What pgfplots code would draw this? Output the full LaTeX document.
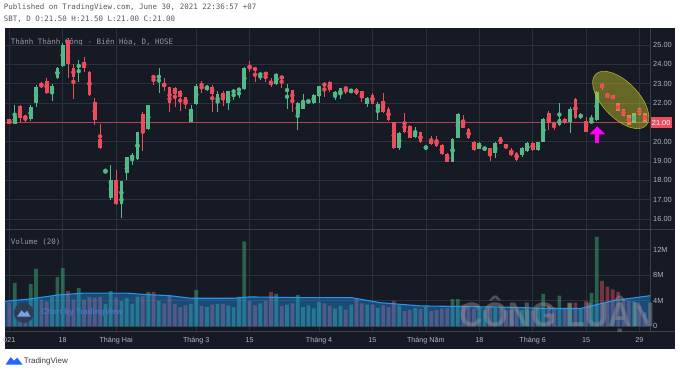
\documentclass[border=0pt]{standalone}
\usepackage{pgfplots}
\pgfplotsset{compat=1.18}
\usepackage{pgfplotstable}
\usepackage{fontspec}
\setmainfont{Liberation Sans}
\newfontfamily\monof{DejaVu Sans Mono}
\usetikzlibrary{arrows.meta,shapes.geometric}
\definecolor{bg}{RGB}{22,26,37}
\definecolor{gridc}{RGB}{44,48,60}
\definecolor{sepc}{RGB}{60,64,76}
\definecolor{upc}{RGB}{83,185,135}
\definecolor{dnc}{RGB}{235,77,92}
\definecolor{vupc}{RGB}{60,160,110}
\definecolor{vdnc}{RGB}{200,70,85}
\definecolor{lbl}{RGB}{178,181,190}
\definecolor{mac}{RGB}{33,150,243}
\definecolor{tvblue}{RGB}{41,98,255}
\definecolor{magc}{RGB}{255,0,255}
\definecolor{hdrc}{RGB}{90,90,90}
\definecolor{ttlc}{RGB}{150,153,162}
\definecolor{elc}{RGB}{200,195,40}
\definecolor{circc}{RGB}{45,58,80}
\definecolor{cloudc}{RGB}{120,160,230}
\definecolor{wmtc}{RGB}{80,130,215}
\definecolor{wmgray}{RGB}{150,150,150}
\definecolor{logotc}{RGB}{60,60,60}
\pgfplotsset{
 upf/.style={restrict expr to domain={\thisrow{u}}{0.5:1.5}},
 dnf/.style={restrict expr to domain={\thisrow{u}}{-0.5:0.5}}}
\pgfplotstableread{
i o h l c u v
0 21.17 21.20 20.90 20.93 0 3.7
1 20.93 21.90 20.90 21.34 1 6.8
2 21.86 21.90 21.00 21.24 0 3.3
3 21.33 21.38 21.00 21.22 0 2.8
4 21.15 21.90 21.07 21.80 1 6.6
5 22.00 22.95 21.80 22.85 1 9.0
6 22.98 23.10 22.80 22.83 0 4.2
7 23.16 23.30 22.48 22.52 0 3.9
8 22.55 23.00 22.10 22.88 1 4.7
9 23.28 23.88 23.24 23.83 1 7.7
10 23.90 25.10 23.86 25.00 1 9.1
11 25.25 25.35 23.30 24.00 0 5.5
12 23.83 24.00 22.20 23.36 0 4.2
13 23.88 24.20 23.10 23.95 1 6.0
14 24.10 24.40 23.60 23.83 0 4.2
15 23.60 23.65 22.35 22.40 0 4.6
16 22.03 22.25 20.87 21.13 0 4.5
17 20.13 20.90 19.65 19.70 0 4.6
18 18.44 18.60 18.40 18.48 1 3.5
19 17.10 18.80 17.00 18.00 1 5.5
20 18.03 18.55 16.75 16.80 0 4.5
21 16.80 17.95 16.05 17.95 1 4.0
22 18.37 19.23 18.00 19.23 1 4.4
23 19.20 19.40 18.80 19.25 1 3.5
24 19.10 20.52 19.05 20.52 1 4.6
25 21.42 21.55 19.50 20.52 0 4.7
26 20.64 21.90 20.60 21.90 1 5.4
27 23.40 23.45 22.95 23.30 0 5.4
28 23.34 23.83 22.50 23.38 1 4.0
29 23.00 23.30 22.60 22.85 0 3.6
30 22.85 22.85 21.56 21.98 0 4.8
31 22.80 22.85 21.80 22.45 0 3.5
32 22.62 22.67 21.60 22.33 0 3.0
33 22.30 22.33 21.70 21.94 0 3.3
34 21.04 21.90 21.00 21.70 1 3.5
35 21.97 23.00 21.90 22.88 1 5.7
36 23.00 23.12 22.50 22.88 0 3.2
37 22.70 22.95 22.60 22.90 1 3.0
38 22.85 22.95 21.55 22.45 0 3.4
39 21.98 22.60 21.55 22.45 1 3.5
40 22.50 22.62 21.86 22.24 0 3.5
41 21.98 22.62 21.65 22.60 1 3.3
42 22.58 22.67 22.15 22.62 1 3.0
43 22.67 22.75 22.25 22.72 1 4.6
44 22.72 23.88 22.67 23.83 1 13.3
45 23.92 24.15 23.60 23.76 0 4.0
46 23.83 23.83 23.10 23.69 0 3.3
47 23.46 23.55 23.20 23.50 1 3.6
48 23.60 23.60 23.10 23.43 0 4.0
49 23.10 23.27 22.85 22.97 0 5.4
50 22.97 23.55 22.93 23.48 1 5.1
51 23.40 23.40 22.80 23.24 0 3.2
52 22.65 22.96 21.70 22.69 1 3.4
53 22.70 22.70 21.52 22.10 0 3.6
54 21.46 22.08 20.60 22.00 1 4.9
55 21.70 22.45 21.67 22.07 1 3.0
56 22.00 22.20 21.95 22.18 1 3.3
57 22.00 22.45 21.95 22.40 1 2.8
58 22.36 22.90 22.00 22.88 1 3.8
59 23.00 23.10 22.30 22.90 0 3.6
60 23.10 23.13 22.55 22.67 0 3.2
61 22.40 22.60 22.15 22.55 1 2.8
62 22.40 22.80 22.20 22.76 1 3.2
63 22.80 22.85 22.45 22.72 0 2.6
64 22.55 22.73 22.50 22.73 1 3.4
65 22.73 22.77 22.42 22.45 0 4.35
66 22.60 22.62 22.07 22.24 0 3.6
67 21.93 22.33 21.80 22.28 1 3.4
68 22.40 22.50 21.95 21.97 0 3.4
69 21.70 22.05 21.14 21.97 1 2.9
70 22.10 22.50 21.50 21.55 0 3.3
71 21.70 21.82 21.05 21.12 0 3.0
72 21.00 21.00 19.62 19.66 0 4.0
73 19.66 20.52 19.57 20.43 1 3.3
74 21.00 21.47 20.43 20.52 0 2.4
75 20.83 20.86 20.17 20.20 0 2.6
76 20.27 20.78 20.20 20.52 1 2.9
77 20.50 20.52 19.93 19.97 0 2.7
78 19.60 19.85 19.55 19.80 1 3.0
79 20.08 20.30 19.85 19.90 0 2.4
80 20.08 20.30 19.75 19.80 0 2.6
81 19.83 19.86 19.30 19.35 0 2.8
82 19.35 19.40 18.93 18.97 0 2.9
83 18.97 20.18 18.93 20.15 1 4.25
84 20.20 21.50 20.17 21.45 1 4.25
85 21.12 21.40 20.70 20.73 0 3.4
86 20.66 20.70 20.13 20.17 0 3.0
87 20.00 20.03 19.53 19.58 0 2.8
88 19.64 20.00 19.60 19.91 1 2.7
89 19.62 19.70 19.60 19.66 1 2.6
90 19.66 19.70 19.00 19.28 0 2.8
91 19.40 20.00 19.14 19.95 1 2.9
92 20.22 20.27 19.86 19.90 0 2.8
93 19.88 19.88 19.62 19.66 0 2.5
94 19.50 19.70 19.27 19.30 0 2.6
95 19.42 19.45 19.03 19.08 0 2.7
96 19.30 19.75 19.20 19.70 1 2.6
97 19.50 19.97 19.45 19.92 1 2.6
98 19.95 20.00 19.53 19.58 0 2.5
99 19.58 20.00 19.53 19.97 1 2.8
100 20.00 21.24 19.97 21.20 1 5.1
101 21.47 21.60 20.60 20.95 0 3.2
102 20.98 21.03 20.60 20.86 0 3.0
103 20.86 21.98 20.83 21.20 1 4.8
104 21.20 21.24 20.90 20.95 0 2.9
105 21.00 21.82 20.44 21.70 1 3.6
106 22.20 22.24 21.20 21.24 0 3.7
107 21.28 21.47 21.20 21.38 1 2.7
108 21.07 21.30 20.48 20.52 0 3.9
109 21.00 21.40 20.95 21.08 1 5.2
110 21.12 22.60 21.07 22.55 1 14.0
111 23.00 23.05 22.70 22.76 0 7.1
112 22.50 22.50 22.28 22.28 0 6.2
113 22.40 22.40 22.20 22.20 0 5.8
114 21.98 21.98 21.60 21.60 0 5.4
115 21.67 21.67 21.34 21.34 0 4.35
116 21.40 21.40 20.86 20.86 0 4.0
117 20.95 21.50 20.95 21.47 1 3.9
118 21.72 21.72 21.40 21.40 0 3.3
119 21.50 21.50 21.00 21.00 0 2.2
}\candles
\pgfplotstableread{
i m
-1 3.9
4 4.3
9 4.9
14 5.2
22 5.2
25 5.0
30 4.8
34 4.4
42 4.4
45 4.6
55 4.5
64 4.5
69.5 3.7
77 3.2
85 3.1
93 3.0
101 2.8
107 2.8
110.5 3.5
113 4.0
116 4.35
120 4.8
}\matab
\begin{document}
\begin{tikzpicture}[x=1pt,y=1pt]
\fill[white] (0,0) rectangle (680,373);
\node[anchor=west,inner sep=0,font=\monof\fontsize{7.5}{8}\selectfont,text=hdrc] at (3,365.7) {Published on TradingView.com, June 30, 2021 22:36:57 +07};
\node[anchor=west,inner sep=0,font=\monof\fontsize{7.5}{8}\selectfont,text=hdrc] at (3,353.3) {SBT, D O:21.50 H:21.50 L:21.00 C:21.00};
\fill[bg] (4,24) rectangle (675,345);
\node[anchor=west,inner sep=0,font=\monof\fontsize{7.5}{8}\selectfont,text=ttlc] at (10,330.3) {Thành Thành Công - Biên Hòa, D, HOSE};
\node[anchor=west,inner sep=0,font=\monof\fontsize{7.5}{8}\selectfont,text=ttlc] at (10,130.3) {Volume (20)};
% price pane
\begin{axis}[at={(4pt,143pt)},anchor=south west,width=646pt,height=202pt,scale only axis,
 xmin=-0.88,xmax=119.98,ymin=15.45,ymax=25.88,
 axis line style={draw=none},tick style={draw=none},
 xtick={0,10,20,35,45,58,68,78,88,98,108,118},xticklabels={},
 ytick={16,17,18,19,20,21,22,23,24,25},
 yticklabels={16.00,17.00,18.00,19.00,20.00,21.00,22.00,23.00,24.00,25.00},
 yticklabel pos=right,
 yticklabel style={anchor=west,inner sep=0pt,xshift=3pt,font=\fontsize{7.4}{8}\selectfont,text=lbl},
 grid=major,major grid style={gridc,line width=0.6pt},
 clip=true]
\addplot[dnc,line width=0.6pt,opacity=0.7] coordinates {(-0.88,21) (119.98,21)};
\addplot[upc,only marks,mark=none,upf,error bars/.cd,y dir=both,y explicit,error mark=none,error bar style={draw=upc,line width=0.7pt}] table[x=i,y expr={(\thisrow{h}+\thisrow{l})/2},y error expr={(\thisrow{h}-\thisrow{l})/2}]{\candles};
\addplot[dnc,only marks,mark=none,dnf,error bars/.cd,y dir=both,y explicit,error mark=none,error bar style={draw=dnc,line width=0.7pt}] table[x=i,y expr={(\thisrow{h}+\thisrow{l})/2},y error expr={(\thisrow{h}-\thisrow{l})/2}]{\candles};
\addplot[upc,only marks,mark=none,upf,error bars/.cd,y dir=both,y explicit,error mark=none,error bar style={draw=upc,line width=3.7pt,line cap=butt}] table[x=i,y expr={(\thisrow{o}+\thisrow{c})/2},y error expr={max(abs(\thisrow{o}-\thisrow{c})/2,0.03)}]{\candles};
\addplot[dnc,only marks,mark=none,dnf,error bars/.cd,y dir=both,y explicit,error mark=none,error bar style={draw=dnc,line width=3.7pt,line cap=butt}] table[x=i,y expr={(\thisrow{o}+\thisrow{c})/2},y error expr={max(abs(\thisrow{o}-\thisrow{c})/2,0.03)}]{\candles};
\node[ellipse,minimum width=72pt,minimum height=36pt,rotate=-46,fill=elc,fill opacity=0.45,draw=elc,draw opacity=0.8,line width=0.6pt] at (axis cs:114.5,22.16) {};
\draw[-{Triangle[width=15pt,length=8pt]},line width=4pt,color=magc] (axis cs:110.1,19.95) -- (axis cs:110.1,20.8);
\end{axis}
% volume pane
\begin{axis}[at={(4pt,41pt)},anchor=south west,width=646pt,height=102pt,scale only axis,
 xmin=-0.88,xmax=119.98,ymin=-0.83,ymax=15.1,
 axis line style={draw=none},tick style={draw=none},
 xtick={0,10,20,35,45,58,68,78,88,98,108,118},
 xticklabels={021,18,Tháng Hai,Tháng 3,15,Tháng 4,15,Tháng Năm,18,Tháng 6,15,29},
 xticklabel style={font=\fontsize{7.2}{8}\selectfont,text=lbl,yshift=-2pt},
 ytick={0,4,8,12},yticklabels={0,4M,8M,12M},
 yticklabel pos=right,
 yticklabel style={anchor=west,inner sep=0pt,xshift=3pt,font=\fontsize{7.4}{8}\selectfont,text=lbl},
 grid=major,major grid style={gridc,line width=0.6pt},
 clip=true]
\addplot[ybar,bar width=3.7pt,bar shift=0pt,fill=vupc,fill opacity=0.55,draw=none,upf] table[x=i,y=v]{\candles};
\addplot[ybar,bar width=3.7pt,bar shift=0pt,fill=vdnc,fill opacity=0.55,draw=none,dnf] table[x=i,y=v]{\candles};
\addplot[fill=mac,fill opacity=0.4,draw=none] table[x=i,y=m]{\matab} \closedcycle;
\addplot[mac,line width=1.1pt] table[x=i,y=m]{\matab};
\end{axis}
\draw[sepc,line width=0.7pt] (4,143) -- (675,143);
\draw[sepc,line width=0.7pt] (650,41) -- (650,345);
\draw[sepc,line width=0.7pt] (4,41) -- (675,41);
\node[fill=dnc,text=white,inner sep=1.2pt,anchor=west,font=\fontsize{7.4}{8}\selectfont,minimum height=11pt] at (650.5,250) {21.00};
% watermark chart by tradingview
\fill[circc,opacity=0.9] (23.3,59.7) circle (10);
\fill[cloudc] (16.5,56) -- (21,62.5) -- (24,59.5) -- (26.5,62) -- (30,56) -- cycle;
\node[anchor=west,inner sep=0,font=\bfseries\fontsize{8}{9}\selectfont,text=wmtc,opacity=0.7] at (40.5,60) {Chart by TradingView};
% CONG LUAN watermark
\node[inner sep=0pt,anchor=base,font=\bfseries\fontsize{34}{38}\selectfont,text=wmgray,opacity=0.45,xscale=0.95] at (557,46) {CÔNG LUẬN};
% bottom logo
\fill[tvblue] (5,8) -- (10,15.5) -- (13.5,12) -- (16.5,15) -- (22,8) -- cycle;
\node[anchor=west,inner sep=0,font=\fontsize{8}{9}\selectfont,text=logotc] at (23,11.5) {TradingView};
\end{tikzpicture}
\end{document}
